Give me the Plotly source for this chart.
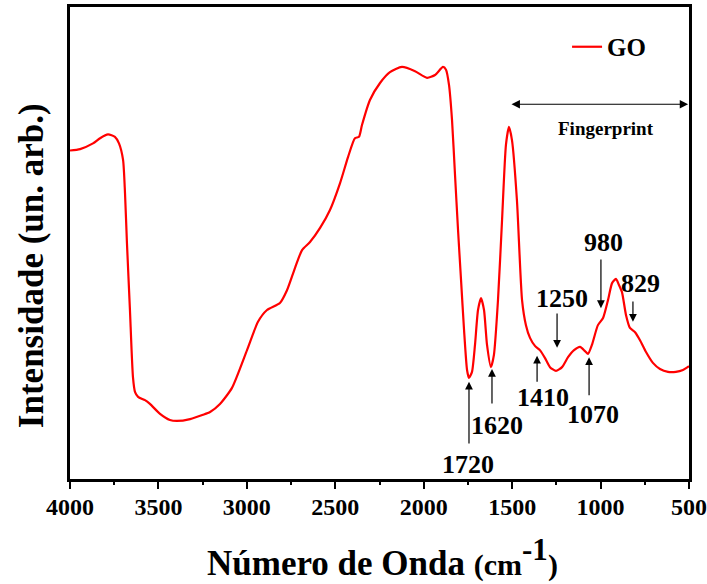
import plotly.graph_objects as go

# FTIR spectrum of GO (wavenumber in cm^-1, intensity in arbitrary units 0-100)
wavenumber = [4000, 3943, 3870, 3830, 3785, 3746, 3723, 3700, 3689, 3678, 3661, 3644, 3632, 3615,
              3576, 3548, 3491, 3435, 3395, 3321, 3248, 3208, 3152, 3084, 2999, 2937, 2886, 2813,
              2773, 2728, 2688, 2643, 2586, 2530, 2473, 2428, 2389, 2366, 2349, 2304, 2247, 2191,
              2123, 2049, 1981, 1936, 1891, 1874, 1857, 1840, 1823, 1806, 1789, 1772, 1755, 1744,
              1727, 1710, 1693, 1676, 1659, 1642, 1620, 1603, 1580, 1557, 1535, 1518, 1501, 1473,
              1444, 1422, 1399, 1371, 1343, 1314, 1286, 1252, 1218, 1184, 1150, 1116, 1088, 1071,
              1049, 1015, 986, 958, 935, 913, 896, 879, 856, 834, 805, 777, 743, 704, 664, 619,
              574, 534, 500]
intensity = [69.6, 69.9, 71.1, 72.2, 73.0, 72.5, 71.1, 67.6, 60.6, 50.0, 35.8, 21.6, 18.4, 17.4,
             16.7, 15.9, 13.8, 12.5, 12.3, 12.7, 13.6, 14.2, 15.9, 19.3, 27.3, 33.3, 35.8, 37.3,
             40.0, 44.7, 48.5, 50.2, 53.2, 57.0, 62.7, 68.2, 72.2, 72.5, 75.0, 80.3, 83.9, 86.2,
             87.3, 86.4, 85.0, 85.6, 87.3, 86.7, 83.5, 76.1, 64.4, 52.8, 42.2, 31.6, 23.1, 21.4,
             22.7, 28.4, 35.8, 38.3, 35.8, 28.4, 23.7, 26.3, 37.9, 54.9, 70.8, 74.6, 71.8, 59.1,
             37.9, 32.6, 29.9, 28.2, 27.3, 25.6, 23.7, 22.9, 23.7, 25.8, 27.3, 28.0, 27.1, 26.5,
             28.4, 32.6, 34.1, 37.9, 41.5, 42.4, 41.1, 39.6, 34.7, 32.0, 31.1, 29.4, 26.9, 24.6,
             23.3, 22.7, 22.7, 23.1, 23.9]

# Peak annotations: label, arrow x, arrow tail y, arrow tip y, label x, label y
peak_labels = ["1720", "1620", "1410", "1250", "1070", "980", "829"]
arrow_x     = [1744, 1614, 1359, 1246, 1065, 998, 817]
arrow_tail  = [7.2, 15.7, 20.3, 35.4, 17.4, 46.8, 37.9]
arrow_tip   = [20.6, 23.3, 26.1, 27.8, 25.8, 36.2, 33.3]
label_x     = [1750, 1586, 1326, 1218, 1043, 986, 777]
label_y     = [3.0, 11.4, 17.2, 38.3, 13.6, 50.2, 41.5]

fingerprint_range = [1512, 505]
fingerprint_y = 79.4

FONT = "Liberation Serif"

fig = go.Figure()
fig.add_trace(go.Scatter(x=wavenumber, y=intensity, mode="lines", name="GO",
                         line=dict(color="#ff0000", width=2.2, shape="spline", smoothing=0.6)))

anns = []
for lab, ax_, t0, t1, lx, ly in zip(peak_labels, arrow_x, arrow_tail, arrow_tip, label_x, label_y):
    anns.append(dict(x=ax_, y=t1, ax=ax_, ay=t0, xref="x", yref="y", axref="x", ayref="y",
                     text="", showarrow=True, arrowhead=2, arrowsize=1.3, arrowwidth=1.2,
                     arrowcolor="black"))
    anns.append(dict(x=lx, y=ly, xref="x", yref="y", text=lab, showarrow=False,
                     font=dict(family=FONT, size=26, color="black", weight="bold"),
                     xanchor="center", yanchor="middle"))

anns.append(dict(x=fingerprint_range[1], y=fingerprint_y, ax=fingerprint_range[0], ay=fingerprint_y,
                 xref="x", yref="y", axref="x", ayref="y", text="", showarrow=True,
                 arrowhead=2, arrowside="end+start", arrowsize=1.4, arrowwidth=1.2,
                 arrowcolor="black"))
anns.append(dict(x=(fingerprint_range[0] + fingerprint_range[1]) / 2 - 40, y=fingerprint_y - 5.2,
                 xref="x", yref="y", text="Fingerprint", showarrow=False,
                 font=dict(family=FONT, size=19, color="black", weight="bold")))

anns.append(dict(x=0.5048, y=-0.167, xref="paper", yref="paper", showarrow=False,
                 xanchor="center", yanchor="middle",
                 text="Número de Onda <span style='font-size:30px'>(cm</span><sup><span style='font-size:31px'>-1</span></sup><span style='font-size:30px'>)</span>",
                 font=dict(family=FONT, size=35, color="black", weight="bold")))
anns.append(dict(x=-0.063, y=0.451, xref="paper", yref="paper", showarrow=False,
                 xanchor="center", yanchor="middle", textangle=-90,
                 text="Intensidade (un. arb.)",
                 font=dict(family=FONT, size=35, color="black", weight="bold")))

fig.update_layout(
    width=707, height=584,
    margin=dict(l=70, r=18, t=7, b=105, autoexpand=False),
    paper_bgcolor="white", plot_bgcolor="white",
    showlegend=True,
    legend=dict(x=0.803, y=0.964, xanchor="left", yanchor="top", bgcolor="rgba(0,0,0,0)",
                font=dict(family=FONT, size=25, color="black", weight="bold")),
    annotations=anns,
    xaxis=dict(range=[4000, 500], autorange=False, tickmode="linear", tick0=500, dtick=500,
               automargin=False,
               ticks="outside", ticklen=7, tickwidth=2, tickcolor="black",
               ticklabelstandoff=-3,
               minor=dict(dtick=250, ticks="outside", ticklen=3, tickwidth=2, tickcolor="black"),
               showline=True, linewidth=3, linecolor="black", mirror=True,
               showgrid=False, zeroline=False,
               tickfont=dict(family=FONT, size=24, color="black", weight="bold")),
    xaxis2=dict(range=[4000, 500], autorange=False, overlaying="x", side="top", anchor="y",
                automargin=False,
                tickmode="linear", tick0=500, dtick=250, ticks="inside", ticklen=3, tickwidth=1.5,
                tickcolor="black", showticklabels=False, showline=False, showgrid=False,
                zeroline=False),
    yaxis=dict(range=[0, 100], autorange=False, showticklabels=False, ticks="",
               automargin=False,
               showline=True, linewidth=3, linecolor="black", mirror=True,
               showgrid=False, zeroline=False),
)

fig.write_html("out.html")
